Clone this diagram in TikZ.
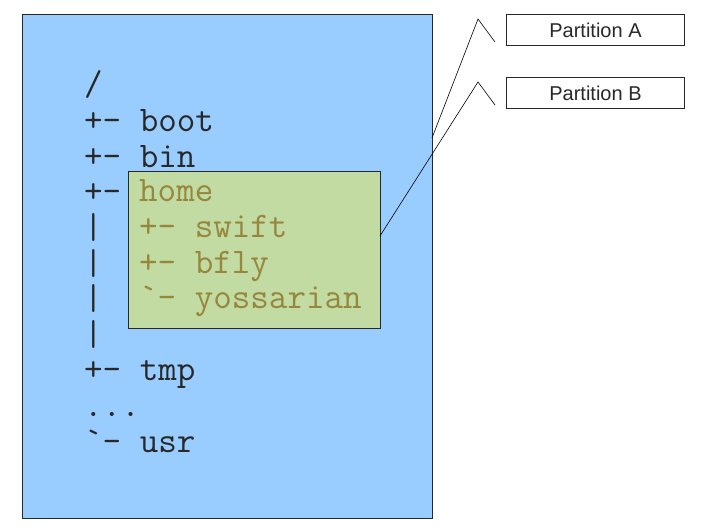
\documentclass[tikz,border=0pt]{standalone}
\usepackage{fontspec}
\newfontfamily\labfont{Liberation Sans}
\definecolor{bluefill}{RGB}{153,204,255}
\definecolor{greenfill}{RGB}{193,219,162}
\definecolor{olivetext}{RGB}{150,135,60}
\definecolor{treetext}{RGB}{40,40,40}
\definecolor{edge}{RGB}{40,40,40}
\begin{document}
\begin{tikzpicture}[x=1pt,y=-1pt,
  tree/.style={anchor=base west,inner sep=0pt,font=\ttfamily\fontsize{36}{36}\selectfont,text=treetext},
  sub/.style={tree,text=olivetext},
  partbox/.style={draw=edge,line width=1pt,fill=white,minimum width=178pt,minimum height=31pt,inner sep=0pt,font=\labfont\fontsize{20}{20}\selectfont,text=treetext},
  callout/.style={draw=black,line width=0.6pt}]
\useasboundingbox (0,0) rectangle (718,532);
% main boxes
\node[draw=edge,line width=1pt,fill=bluefill,minimum width=410pt,minimum height=504pt,inner sep=0pt,anchor=north west] (blue) at (22,14) {};
% tree lines
\node[tree] (l0) at (84,96) {/};
\node[tree] (l1) at (84,131.6) {+- boot};
\node[tree] (l2) at (84,167.2) {+- bin};
\node[tree] (l3) at (84,202.8) {+-};
\node[tree] (l4) at (84,238.4) {|};
\node[tree] (l5) at (84,274) {|};
\node[tree] (l6) at (84,309.6) {|};
\node[tree] (l7) at (84,345.2) {|};
\node[tree] (l8) at (84,380.8) {+- tmp};
\node[tree] (l9) at (84,416.4) {...};
\node[tree] (l10) at (84,452) {`- usr};
% green box
\node[draw=edge,line width=1pt,fill=greenfill,minimum width=252pt,minimum height=157pt,inner sep=0pt,anchor=north west] (green) at (128,171) {};
\node[sub] (g0) at (139,201.5) {home};
\node[sub] (g1) at (139,237.3) {+- swift};
\node[sub] (g2) at (139,273) {+- bfly};
\node[sub] (g3) at (139,308.6) {`- yossarian};
% partition labels
\node[partbox,anchor=north west] (pa) at (506,14) {Partition A};
\node[partbox,anchor=north west] (pb) at (506,77.5) {Partition B};
% callouts
\coordinate (aS) at (432,138);
\coordinate (aT) at (478,19);
\coordinate (aE) at (495,42);
\coordinate (bS) at (380,236);
\coordinate (bT) at (478,82);
\coordinate (bE) at (495,105);
\draw[callout] (aS) -- (aT) -- (aE);
\draw[callout] (bS) -- (bT) -- (bE);
\end{tikzpicture}
\end{document}
